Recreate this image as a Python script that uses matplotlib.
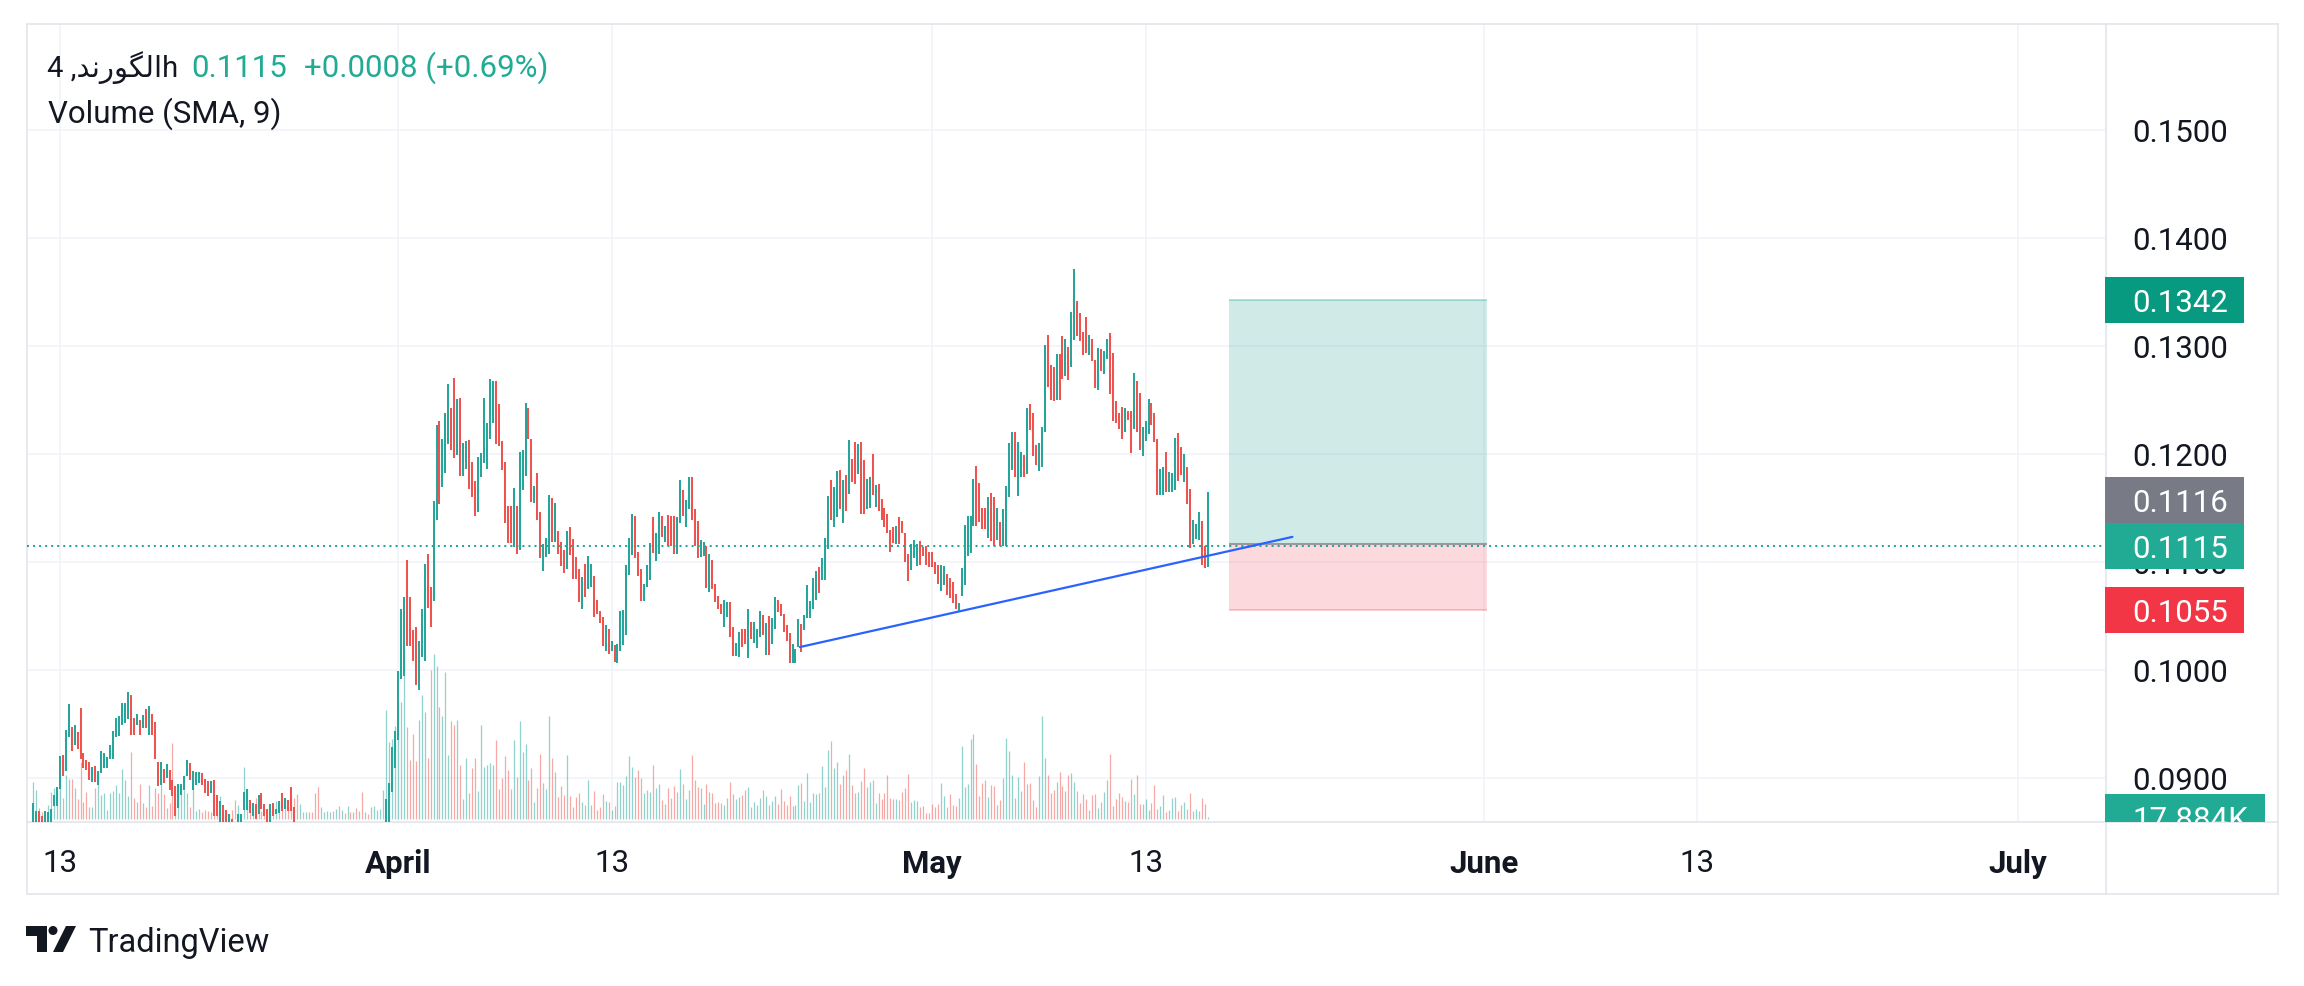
import matplotlib
matplotlib.use("Agg")
import matplotlib.pyplot as plt
import matplotlib.dates as mdates
from matplotlib.colors import to_rgba
from matplotlib.lines import Line2D
from matplotlib.patches import Rectangle, Polygon, Ellipse
from matplotlib.transforms import blended_transform_factory, Bbox, TransformedBbox
import pandas as pd

plt.rcParams['font.family'] = ['Roboto', 'DejaVu Sans']

# 4h candles (bar top / bottom, colour)
first_candle = "2025-03-11 12:00"

highs = [
    # Mar 11 - Mar 26
    .0877, .0869, .0869, .0865, .0869, .0868, .0871, .0884, .0891, .0920,
    .0921, .0944, .0968, .0947, .0949, .0942, .0965, .0923, .0916, .0915,
    .0910, .0911, .0906, .0925, .0923, .0919, .0930, .0943, .0955, .0957,
    .0969, .0969, .0979, .0977, .0955, .0959, .0953, .0958, .0964, .0966,
    .0959, .0952, .0915, .0915, .0908, .0913, .0907, .0898, .0892, .0894,
    .0894, .0902, .0916, .0914, .0906, .0905, .0905, .0904, .0899, .0897,
    .0897, .0898, .0884, .0878, .0875, .0870, .0866, .0862, .0858, .0866,
    .0866, .0887, .0890, .0879, .0877, .0876, .0884, .0886, .0876, .0871,
    .0876, .0877, .0871, .0878, .0886, .0881, .0879, .0891, .0873,
    # below the visible range
    .0853, .0852, .0851, .0852, .0850, .0849, .0848, .0849, .0851, .0852,
    .0853, .0852, .0851, .0850, .0851, .0852, .0851, .0850, .0851, .0852,
    .0851, .0850, .0851, .0852, .0851, .0850, .0851, .0852, .0853, .0855,
    # April
    .0880, .0895, .0928, .0943, .0999, .1056, .1067, .1102, .1067, .1037,
    .1040, .1027, .1056, .1098, .1107, .1077, .1156, .1227, .1230, .1214,
    .1238, .1265, .1242, .1270, .1251, .1252, .1210, .1212, .1213, .1192,
    .1175, .1197, .1201, .1252, .1228, .1269, .1267, .1267, .1246, .1212,
    .1192, .1152, .1152, .1168, .1152, .1202, .1203, .1247, .1242, .1214,
    .1170, .1182, .1146, .1116, .1122, .1162, .1159, .1154, .1128, .1118,
    .1111, .1128, .1132, .1121, .1104, .1093, .1086, .1098, .1105, .1098,
    .1087, .1065, .1054, .1049, .1041, .1038, .1027, .1023, .1024, .1054,
    .1055, .1097, .1122, .1144, .1142, .1109, .1093, .1079, .1097, .1117,
    .1141, .1127, .1146, .1142, .1133, .1143, .1142, .1142, .1141, .1176,
    .1166, .1157, .1178, .1178, .1149, .1138, .1120, .1118, .1115, .1107,
    .1102, .1079, .1068, .1061, .1065, .1063, .1063, .1040, .1025, .1035,
    .1038, .1038, .1056, .1044, .1044, .1038, .1054, .1051, .1043, .1050,
    .1048, .1067, .1065,
    .1061, .1052, .1041, .1034, .1024, .1019, .1047, .1042, .1051, .1078,
    .1064, .1085, .1091, .1095, .1103, .1122, .1161, .1176, .1169, .1184,
    .1185, .1176, .1180, .1213, .1195, .1211, .1209, .1211, .1194, .1177,
    .1178, .1200, .1171, .1172, .1158, .1150, .1144, .1129, .1132, .1133,
    .1141, .1138, .1127, .1107, .1116, .1120, .1116, .1119, .1114, .1115,
    .1109, .1109, .1100, .1097, .1097, .1096, .1089, .1085,
    # May
    .1081, .1070, .1062, .1094, .1134, .1142, .1142, .1177, .1189, .1173,
    .1150, .1150, .1160, .1164, .1160, .1150, .1137, .1149, .1170, .1210,
    .1220, .1220, .1211, .1202, .1199, .1242, .1246, .1238, .1208, .1210,
    .1225, .1301, .1310, .1282, .1280, .1292, .1292, .1309, .1306, .1299,
    .1331, .1371, .1341, .1330, .1313, .1327, .1310, .1306, .1287, .1298,
    .1297, .1295, .1306, .1312, .1293, .1249, .1238, .1243, .1242, .1240,
    .1240, .1275, .1267, .1256, .1225, .1230, .1251, .1247, .1238, .1214,
    .1186, .1188, .1202, .1183, .1182, .1215, .1219, .1206, .1200, .1188,
    .1167, .1139, .1135, .1146, .1138, .1115, .1165,
]

lows = [
    .0850, .0850, .0850, .0850, .0850, .0850, .0850, .0874, .0874, .0890,
    .0902, .0906, .0938, .0925, .0930, .0927, .0917, .0909, .0907, .0898,
    .0896, .0896, .0893, .0904, .0909, .0909, .0917, .0917, .0938, .0939,
    .0949, .0951, .0954, .0940, .0940, .0949, .0940, .0946, .0946, .0940,
    .0940, .0917, .0892, .0893, .0895, .0900, .0889, .0883, .0865, .0872,
    .0884, .0889, .0902, .0898, .0889, .0893, .0895, .0893, .0886, .0883,
    .0886, .0865, .0865, .0850, .0850, .0850, .0850, .0850, .0848, .0850,
    .0850, .0870, .0870, .0867, .0865, .0862, .0866, .0871, .0865, .0850,
    .0850, .0865, .0866, .0867, .0869, .0871, .0869, .0869, .0850,
    .0843, .0842, .0841, .0842, .0840, .0839, .0838, .0839, .0841, .0842,
    .0843, .0842, .0841, .0840, .0841, .0842, .0841, .0840, .0841, .0842,
    .0841, .0840, .0841, .0842, .0841, .0840, .0841, .0842, .0843, .0845,
    .0850, .0855, .0887, .0909, .0935, .0991, .0994, .1022, .1022, .1008,
    .0986, .0981, .1012, .1008, .1057, .1040, .1064, .1139, .1153, .1169,
    .1182, .1209, .1203, .1196, .1199, .1179, .1179, .1186, .1167, .1160,
    .1142, .1146, .1178, .1191, .1186, .1214, .1228, .1209, .1207, .1185,
    .1136, .1117, .1117, .1114, .1107, .1111, .1166, .1179, .1214, .1155,
    .1154, .1139, .1103, .1091, .1104, .1107, .1118, .1118, .1107, .1096,
    .1090, .1093, .1106, .1084, .1084, .1063, .1056, .1067, .1075, .1077,
    .1049, .1052, .1043, .1022, .1017, .1015, .1017, .1007, .1006, .1017,
    .1023, .1032, .1088, .1106, .1103, .1087, .1064, .1064, .1077, .1083,
    .1108, .1101, .1107, .1123, .1118, .1115, .1115, .1107, .1107, .1136,
    .1142, .1132, .1149, .1139, .1115, .1103, .1104, .1105, .1076, .1072,
    .1075, .1063, .1056, .1052, .1040, .1049, .1030, .1013, .1013, .1012,
    .1021, .1024, .1011, .1028, .1025, .1020, .1030, .1032, .1014, .1014,
    .1024, .1038, .1053,
    .1050, .1035, .1027, .1006, .1006, .1006, .1021, .1016, .1037, .1048,
    .1048, .1056, .1065, .1071, .1083, .1083, .1112, .1139, .1132, .1141,
    .1149, .1136, .1147, .1163, .1174, .1172, .1181, .1144, .1144, .1149,
    .1150, .1162, .1151, .1147, .1139, .1132, .1127, .1109, .1117, .1116,
    .1116, .1127, .1100, .1082, .1092, .1103, .1096, .1097, .1105, .1097,
    .1095, .1095, .1089, .1079, .1073, .1078, .1069, .1066,
    .1062, .1056, .1054, .1068, .1078, .1105, .1108, .1133, .1133, .1137,
    .1130, .1130, .1122, .1119, .1115, .1120, .1115, .1115, .1115, .1160,
    .1185, .1178, .1161, .1178, .1178, .1181, .1222, .1198, .1190, .1184,
    .1188, .1220, .1262, .1250, .1249, .1250, .1250, .1269, .1272, .1268,
    .1280, .1305, .1309, .1304, .1291, .1293, .1291, .1286, .1261, .1259,
    .1277, .1274, .1288, .1255, .1230, .1228, .1223, .1214, .1220, .1231,
    .1201, .1223, .1220, .1203, .1198, .1212, .1218, .1227, .1211, .1162,
    .1162, .1162, .1165, .1165, .1165, .1166, .1175, .1180, .1174, .1153,
    .1113, .1116, .1121, .1120, .1097, .1094, .1095,
]

# u = green candle, d = red candle
dirs = """
u u d d u u u u u u  d u u d u d d d d d  u d u u u u u u u u
u u u d d u d u d u  d d d u d u d d d u  u u u d u u u d d d
u d d u d d u d d u  u u u d u d u d d d  u d u u d u d d d
d u d u d d d d u u  u u d u d u d u d u  d u d u d u u u u u
u u u u u u u d d d  d u u u d d u u d u  u u d d u d u u d d
d u u u u u u d d d  d d d u d u u u d d  u d d u u u d u d d
d u d d d d u d u u  d d d d u d u d u u  u u u u d d d u u u
d u u d u d d d u u  d u u d d d u u d u  d d d d u u d d u u
d d u d u u u d u d  u u d
d d d d u u u d u u  u u u d u u u d u u  d u d u d d u d d u
u d u d d d d d d u  d d d d u u u d d d  d d d d u u d d
d d u u u u u u d d  d d u d d u d u u u  u d u u d u d d d u
u u d d d u d d u d  u u d d d d u d d u  d u u d d d d d u d
d u d d u u u d d d  u u d u u u d d u d  d u u u d d u
""".split()

# volume per candle, thousands
volumes_k = [
    333, 261, 99, 63, 72, 126, 243, 279, 243, 387,
    189, 396, 360, 360, 279, 180, 513, 153, 243, 108,
    108, 279, 432, 216, 234, 81, 234, 252, 306, 234,
    450, 351, 207, 603, 189, 153, 315, 144, 108, 306,
    117, 279, 234, 351, 225, 99, 144, 684, 117, 207,
    270, 261, 234, 108, 387, 72, 90, 63, 81, 72,
    63, 171, 54, 207, 63, 54, 45, 81, 171, 126,
    45, 468, 270, 135, 54, 189, 144, 72, 108, 45,
    108, 90, 162, 117, 117, 189, 108, 225, 189, 225,
    135, 63, 63, 63, 63, 234, 288, 108, 63, 72,
    63, 72, 90, 117, 81, 54, 117, 63, 63, 99,
    72, 243, 63, 45, 108, 117, 81, 90, 261,
    981, 693, 720, 837, 1053, 1053, 1485, 828, 531, 765,
    522, 891, 1116, 963, 549, 1341, 1485, 1377, 1008, 927,
    1323, 576, 882, 846, 891, 486, 180, 549, 234, 459,
    549, 252, 846, 468,
    486, 504, 486, 711, 270, 369, 567, 441, 270, 711,
    378, 882, 603, 675, 351, 459, 153, 279, 585, 324,
    270, 927, 549, 423, 198, 297, 216, 576, 207, 108,
    198, 234, 153, 126, 351, 126, 252, 81, 108, 225,
    162, 153, 81, 117, 333,
    333, 306, 387, 567, 468, 378, 441, 369, 234, 261,
    243, 486, 279, 315, 171, 135, 279, 189, 297, 243,
    450, 315, 180, 261, 576, 351, 288, 279, 135, 315,
    243, 234, 144, 153, 144, 126, 189, 333, 225, 180,
    198, 216, 261, 288, 108, 153, 126, 189, 261, 207,
    126, 162, 207, 135, 270, 162, 126, 207, 117, 126,
    306, 324, 162, 414, 153, 234, 225, 234, 477, 288,
    621, 702, 459, 513, 315, 396, 441, 585, 306, 234,
    243, 342, 459, 288, 333, 351, 144, 234, 180, 234,
    396, 189, 180, 180, 171, 243, 279, 405, 153, 171,
    162, 108, 117, 54, 54, 135, 108, 135, 324, 207,
    108, 225, 126, 117, 189, 657, 288, 315, 720, 765,
    495, 207, 324, 351, 198, 306, 297, 126, 171, 369,
    729, 612, 396, 189, 378, 252, 513, 315, 324, 171,
    108, 387, 927, 549, 396, 234, 261, 333, 423, 297,
    252, 396, 414, 333, 252, 144, 225, 180, 81, 216,
    225, 99, 153, 243, 351, 585, 117, 180, 234, 198,
    162, 153, 360, 225, 396, 135, 135, 180, 81, 144,
    306, 90, 117, 216, 63, 81, 189, 198, 72, 126,
    153, 90, 234, 72, 90, 72, 189, 135, 17.884,
]

price_ticks = [0.09, 0.10, 0.11, 0.12, 0.13, 0.14, 0.15]
date_ticks = ["2025-03-13", "2025-04-01", "2025-04-13", "2025-05-01",
              "2025-05-13", "2025-06-01", "2025-06-13", "2025-07-01"]
date_labels = ["13", "April", "13", "May", "13", "June", "13", "July"]

last_price = 0.1115
last_change = "+0.0008 (+0.69%)"
take_profit, entry, stop = 0.1342, 0.1116, 0.1055
position_span = ("2025-05-17 16:00", "2025-06-01 04:00")
trend_pts = [("2025-04-23 14:00", 0.1021), ("2025-05-21 06:00", 0.1123)]

# symbol name, letters in display order (presentation forms)
symbol_visual = "\uFEAA\uFEE7\uFEAD\uFEEE\uFB95\uFEDF\uFE8D"

assert len(highs) == len(lows) == len(dirs) == len(volumes_k), \
    (len(highs), len(lows), len(dirs), len(volumes_k))

UP, DOWN = "#26a69a", "#ef5350"
TXT, GRID, BORDER = "#131722", "#f0f3fa", "#e0e3eb"
W, H = 2304, 987
FS = 22.5


def dnum(s):
    return mdates.date2num(pd.Timestamp(s).to_pydatetime())


def px(x, y):
    return (x / W, 1 - y / H)


fig = plt.figure(figsize=(W / 100, H / 100), dpi=100)
fig.patch.set_facecolor("white")
ax = fig.add_axes([27 / W, 1 - 823 / H, (2106 - 27) / W, (823 - 25) / H])
ax2 = ax.twinx()
ax2.axis("off")

times = pd.date_range(first_candle, periods=len(highs), freq="4h")
xs = mdates.date2num(times.to_pydatetime())
ccols = [UP if d == "u" else DOWN for d in dirs]
vcols = [to_rgba(c, 0.5) for c in ccols]

vtrans = blended_transform_factory(ax.transData, ax2.transData)
ax.vlines(xs, 0, volumes_k, colors=vcols, lw=0.9, transform=vtrans, zorder=1)
ax.vlines(xs, lows, highs, colors=ccols, lw=1.45, zorder=3)

# long position tool
x0, x1 = dnum(position_span[0]), dnum(position_span[1])
ax.add_patch(Rectangle((x0, entry), x1 - x0, take_profit - entry,
                       facecolor=to_rgba("#089981", 0.19), edgecolor="none", zorder=2))
ax.add_patch(Rectangle((x0, stop), x1 - x0, entry - stop,
                       facecolor=to_rgba("#f23645", 0.19), edgecolor="none", zorder=2))
ax.hlines([take_profit], x0, x1, colors=[to_rgba("#089981", 0.35)], lw=1.2, zorder=2)
ax.hlines([entry], x0, x1, colors=[to_rgba("#787b86", 0.7)], lw=1.5, zorder=2)
ax.hlines([stop], x0, x1, colors=[to_rgba("#f23645", 0.3)], lw=1.2, zorder=2)

ax.axhline(last_price, color=UP, lw=1.45, ls=(0, (1, 2)), zorder=4)
ax.plot([dnum(d) for d, _ in trend_pts], [p for _, p in trend_pts],
        color="#2962ff", lw=1.6, zorder=5, solid_capstyle="round")

ax.set_xlim(dnum("2025-03-11 03:50"), dnum("2025-07-05 23:00"))
ax.set_ylim(0.08590, 0.15979)
ax2.set_ylim(-27, 7155)

ax.set_xticks([dnum(d) for d in date_ticks])
ax.set_xticklabels(date_labels)
for lab in ax.get_xticklabels():
    if not lab.get_text().isdigit():
        lab.set_fontweight("bold")
ax.yaxis.tick_right()
ax.set_yticks(price_ticks)
ax.set_yticklabels([f"{v:.4f}" for v in price_ticks])
ax.tick_params(axis="x", length=0, pad=18.7, labelsize=FS, labelcolor=TXT)
ax.tick_params(axis="y", length=0, pad=18.7, labelsize=FS, labelcolor=TXT)
ax.grid(True, color=GRID, lw=1.1)
ax.set_axisbelow(True)
for s in ax.spines.values():
    s.set_color(BORDER)
    s.set_linewidth(1.1)

# price scale labels
y0, y1 = ax.get_ylim()
ppx = (y1 - y0) / 798
box_h = 46 * ppx
bt = blended_transform_factory(fig.transFigure, ax.transData)
price_boxes = [(take_profit, take_profit, "#089981"),
               (entry, last_price + box_h, "#787b86"),
               (last_price, last_price, "#22ab94"),
               (stop, stop, "#f23645")]
for val, yc, col in price_boxes:
    fig.add_artist(Rectangle((2105 / W, yc - box_h / 2), 139 / W, box_h,
                             transform=bt, facecolor=col, edgecolor="none", zorder=10))
    fig.text(2132 / W, yc - 11 * ppx, f"{val:.4f}", transform=bt, color="white",
             fontsize=FS, va="baseline", ha="left", zorder=11)

# volume label, cut by the bottom of the pane
vt = blended_transform_factory(fig.transFigure, ax2.transData)
v0, v1 = ax2.get_ylim()
vbox = 46 * (v1 - v0) / 798
clip = TransformedBbox(Bbox.from_extents(0, 1 - 823 / H, 1, 1), fig.transFigure)
r = Rectangle((2105 / W, volumes_k[-1] - vbox / 2), 160 / W, vbox, transform=vt,
              facecolor="#22ab94", edgecolor="none", zorder=10)
fig.add_artist(r)
r.set_clip_box(clip)
r.set_clip_on(True)
t = fig.text(2132 / W, volumes_k[-1] - 11 * (v1 - v0) / 798, f"{volumes_k[-1]:.3f}K",
             transform=vt, color="white", fontsize=FS, va="baseline", zorder=11)
t.set_clip_box(clip)
t.set_clip_on(True)

# frame around the widget
for (xa, ya), (xb, yb) in [((27, 823), (27, 895)), ((27, 895), (2278, 895)),
                           ((2278, 25), (2278, 895)), ((2106, 25), (2278, 25)),
                           ((2106, 823), (2278, 823)), ((2106, 823), (2106, 895))]:
    fig.add_artist(Line2D([xa / W, xb / W], [1 - ya / H, 1 - yb / H],
                          color=BORDER, lw=1.1, transform=fig.transFigure))

# legend lines
fig.text(47 / W, 1 - 77 / H, "4 ," + symbol_visual + "h", fontsize=21, color=TXT, va="baseline")
fig.text(191 / W, 1 - 77 / H, f"{last_price:.4f}", fontsize=FS, color="#22ab94", va="baseline")
fig.text(304 / W, 1 - 77 / H, last_change, fontsize=FS, color="#22ab94", va="baseline")
fig.text(48 / W, 1 - 123 / H, "Volume (SMA, 9)", fontsize=FS, color=TXT, va="baseline")

# TradingView mark
fig.add_artist(Polygon([px(26, 927), px(47, 927), px(47, 953), px(37, 953), px(37, 937), px(26, 937)],
                       closed=True, facecolor=TXT, edgecolor="none", transform=fig.transFigure))
fig.add_artist(Ellipse(px(53, 931.5), 9 / W, 9 / H, facecolor=TXT, edgecolor="none",
                       transform=fig.transFigure))
fig.add_artist(Polygon([px(53, 953), px(63, 953), px(76, 927), px(66, 927)],
                       closed=True, facecolor=TXT, edgecolor="none", transform=fig.transFigure))
fig.text(88 / W, 1 - 952 / H, "TradingView", fontsize=23.5, color=TXT, va="baseline")

fig.savefig("out.png", dpi=100, facecolor="white")
